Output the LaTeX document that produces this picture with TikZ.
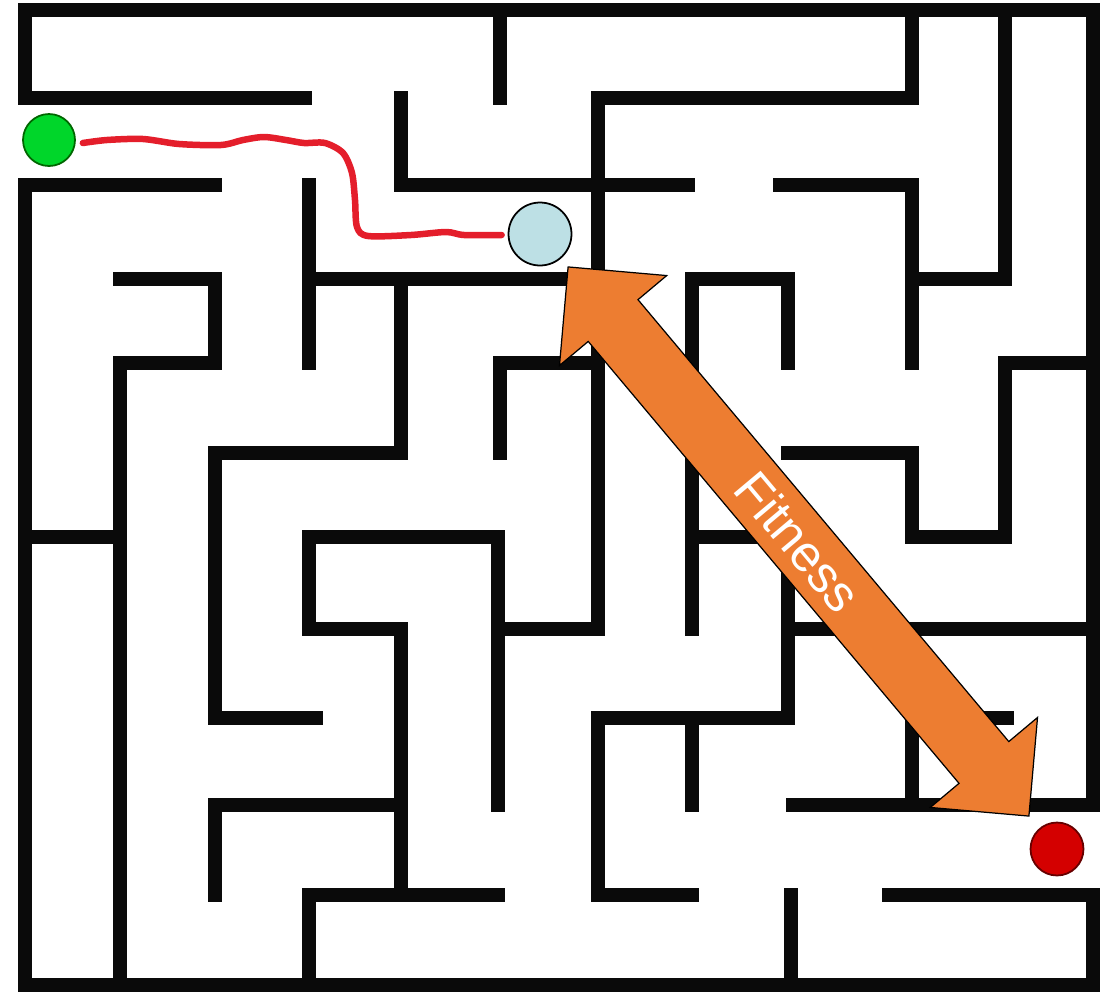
\documentclass[tikz,border=0pt]{standalone}
\usepackage{fontspec}
\newfontfamily\flechafont{Liberation Sans}
\usepackage{tikz}
\usetikzlibrary{shapes.arrows,calc,positioning}
\definecolor{naranja}{HTML}{ED7D31}
\definecolor{verde}{HTML}{00D62A}
\definecolor{celeste}{HTML}{BDE0E5}
\definecolor{rojo}{HTML}{D40000}
\definecolor{trazo}{HTML}{E41E2B}
\tikzset{
  muro/.style={line width=0.28cm,draw=black!96,line cap=rect,line join=miter},
  punto/.style={circle,inner sep=0pt,line width=1pt},
  camino/.style={draw=trazo,line width=0.13cm,line cap=round,line join=round},
  flecha/.style={double arrow,double arrow head extend=0.7cm,double arrow tip angle=90,fill=naranja,draw=black,line width=0.7pt,inner xsep=0pt,inner ysep=0.22cm,text=white,font=\flechafont\fontsize{29}{30}\selectfont}
}
\begin{document}
\begin{tikzpicture}[x=0.02cm,y=-0.02cm]
\useasboundingbox (0,0) rectangle (1112,991);
\draw[muro] (305,98)--(25,98)--(25,10)--(1093,10)--(1093,805)--(793,805);
\draw[muro] (215,185)--(25,185)--(25,985)--(1093,985)--(1093,895)--(889,895);
\draw[muro] (500,10)--(500,98);
\draw[muro] (401,98)--(401,185)--(688,185);
\draw[muro] (912,10)--(912,98)--(598,98)--(598,629)--(498,629);
\draw[muro] (498,805)--(498,537)--(309,537)--(309,629)--(401,629)--(401,895);
\draw[muro] (498,895)--(309,895)--(309,985);
\draw[muro] (500,453)--(500,363)--(598,363);
\draw[muro] (309,185)--(309,363) (309,279)--(598,279);
\draw[muro] (120,279)--(215,279)--(215,363)--(120,363)--(120,985);
\draw[muro] (25,537)--(120,537);
\draw[muro] (401,279)--(401,453)--(215,453)--(215,718)--(316,718);
\draw[muro] (215,895)--(215,805)--(401,805);
\draw[muro] (788,363)--(788,279)--(692,279)--(692,629);
\draw[muro] (692,537)--(788,537)--(788,718)--(598,718)--(598,895)--(692,895) (692,718)--(692,805);
\draw[muro] (780,185)--(912,185)--(912,363);
\draw[muro] (1005,10)--(1005,279)--(912,279);
\draw[muro] (1093,363)--(1005,363)--(1005,537)--(912,537)--(912,453)--(788,453);
\draw[muro] (788,629)--(1093,629);
\draw[muro] (1007,718)--(912,718)--(912,805);
\draw[muro] (791,895)--(791,985);

\node[punto,fill=verde,draw=green!40!black,minimum size=1.04cm] (inicio) at (49,140) {};
\node[punto,fill=celeste,draw=black,minimum size=1.26cm] (actual) at (540,234) {};
\node[punto,fill=rojo,draw=red!40!black,minimum size=1.06cm] (meta) at (1057,849) {};
\draw[camino] plot[smooth,tension=0.5] coordinates {($(inicio.east)+(7,3)$) (107,140) (143,139) (179,144) (221,145) (243,140) (264,137) (286,140) (304,143) (325,143) (343,153) (352,173) (355,200) (357,227) (368,236) (411,235) (446,232) (464,235) ($(actual.west)+(-6,1)$)};
\node[flecha,minimum height=14.34cm,minimum width=2.8cm,rotate=-50] (fitness) at ($(actual)!0.5!(meta)$) {Fitness};
\end{tikzpicture}
\end{document}
